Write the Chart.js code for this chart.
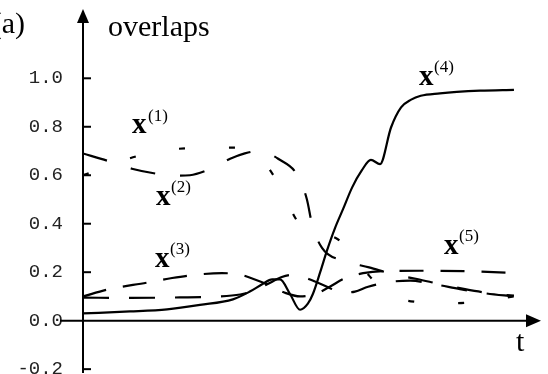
<!DOCTYPE html>
<html>
<head>
<meta charset="utf-8">
<script src="https://cdn.jsdelivr.net/npm/chart.js@4.4.0/dist/chart.umd.min.js"></script>
<style>
html,body{margin:0;padding:0;background:#fff;}
#wrap{width:548px;height:374px;position:relative;}
</style>
</head>
<body>
<div id="wrap"><canvas id="c" width="548" height="374"></canvas></div>
<script>
// y-axis tick labels
const yTicks = [-0.2, 0.0, 0.2, 0.4, 0.6, 0.8, 1.0];

// x^(1): short dashes
const t1 = [0, 4.8, 10.3, 16.8, 22.3, 27.8, 33.3, 37.6, 42.0, 47.3, 50.8, 55.4, 58.9, 62.6, 66.1, 69.4, 72.6, 78.1, 83.8, 89.1, 94.3];
const v1 = [0.60, 0.63, 0.67, 0.70, 0.711, 0.714, 0.714, 0.695, 0.59, 0.40, 0.36, 0.34, 0.28, 0.186, 0.12, 0.09, 0.078, 0.072, 0.074, 0.085, 0.10];

// x^(2): long dashes
const t2 = [0, 5.3, 10.7, 16.2, 20.1, 23.4, 27.1, 32.2, 35.4, 38.3, 40.5, 42.7, 47.0, 49.0, 50.1, 52.3, 57.1, 62.6, 68.1, 73.1, 78.3, 83.6, 89.1, 94.3];
const v2 = [0.69, 0.66, 0.627, 0.606, 0.598, 0.60, 0.62, 0.668, 0.69, 0.70, 0.69, 0.668, 0.598, 0.50, 0.40, 0.30, 0.247, 0.22, 0.19, 0.172, 0.15, 0.13, 0.113, 0.103];

// x^(3): dashed, rises to ~0.2
const t3 = [0, 5.3, 14.0, 19.5, 24.9, 30.4, 34.4, 37.6, 40.3, 44.2, 47.5, 50.8, 54.0, 57.3, 61.3, 66.1, 73.7, 84.7, 94.3];
const v3 = [0.10, 0.128, 0.157, 0.176, 0.19, 0.196, 0.19, 0.17, 0.15, 0.115, 0.10, 0.11, 0.14, 0.175, 0.196, 0.205, 0.206, 0.204, 0.197];

// x^(4): solid, goes to ~0.95
const t4 = [0, 10.3, 18.4, 25.6, 32.8, 36.5, 39.2, 41.4, 43.1, 45.3, 47.5, 49.2, 50.3, 51.9, 53.4, 55.1, 56.9, 58.9, 61.0, 63.0, 65.0, 67.4, 69.6, 71.8, 73.9, 78.1, 81.8, 86.9, 94.3];
const v4 = [0.03, 0.038, 0.047, 0.065, 0.088, 0.12, 0.15, 0.17, 0.17, 0.11, 0.045, 0.07, 0.11, 0.20, 0.29, 0.38, 0.46, 0.55, 0.62, 0.663, 0.646, 0.797, 0.88, 0.912, 0.928, 0.938, 0.944, 0.949, 0.952];

// x^(5): dashed, starts flat ~0.1
const t5 = [0, 10.3, 21.2, 28.4, 34.4, 37.6, 40.3, 43.5, 46.4, 49.7, 53.4, 56.7, 59.5, 62.4, 67.2, 71.6, 77.0, 82.5, 88.0, 94.3];
const v5 = [0.095, 0.094, 0.096, 0.099, 0.108, 0.125, 0.15, 0.18, 0.19, 0.17, 0.14, 0.115, 0.12, 0.14, 0.16, 0.165, 0.15, 0.13, 0.113, 0.10];

function pts(t, v){ return t.map((x,i)=>({x:x, y:v[i]})); }
function ds(t, v, dash){
  return {data: pts(t, v), borderColor:'#000', borderWidth:2.2, borderDash:dash,
          pointRadius:0, fill:false, cubicInterpolationMode:'monotone', borderCapStyle:'butt'};
}

const axesPlugin = {
  id:'axesDecor',
  afterDraw(chart){
    const ctx = chart.ctx, xs = chart.scales.x, ys = chart.scales.y;
    const x0 = xs.getPixelForValue(0), y0 = ys.getPixelForValue(0);
    ctx.save();
    ctx.strokeStyle='#000'; ctx.fillStyle='#000'; ctx.lineWidth=2;
    // x axis
    ctx.beginPath(); ctx.moveTo(60, y0); ctx.lineTo(xs.right-12, y0); ctx.stroke();
    ctx.beginPath(); ctx.moveTo(xs.right+1, y0); ctx.lineTo(xs.right-14, y0-6.5); ctx.lineTo(xs.right-14, y0+6.5); ctx.closePath(); ctx.fill();
    // y axis
    ctx.beginPath(); ctx.moveTo(x0, ys.bottom-1); ctx.lineTo(x0, ys.top+12); ctx.stroke();
    ctx.beginPath(); ctx.moveTo(x0, ys.top+1); ctx.lineTo(x0-6, ys.top+15); ctx.lineTo(x0+6, ys.top+15); ctx.closePath(); ctx.fill();
    // tick marks
    yTicks.forEach(v=>{ if(v===0) return; const y=ys.getPixelForValue(v);
      ctx.beginPath(); ctx.moveTo(x0-1, y); ctx.lineTo(x0+8, y); ctx.stroke(); });
    // texts
    ctx.textBaseline='alphabetic'; ctx.textAlign='left';
    ctx.font='30px "Liberation Serif", "Times New Roman", serif';
    ctx.fillText('overlaps', 108, 36);
    ctx.fillText('t', 516, 351);
    ctx.textAlign='right';
    ctx.fillText('(a)', 25, 33);
    ctx.textAlign='left';
    const labels = [
      ['(1)', 132, 133, 148, 121],
      ['(2)', 156, 205, 171, 192],
      ['(3)', 155, 267, 170, 254],
      ['(4)', 419, 85, 434, 72],
      ['(5)', 444, 254, 459, 241]
    ];
    labels.forEach(l=>{
      ctx.font='bold 29px "Liberation Serif", "Times New Roman", serif';
      ctx.fillText('x', l[1], l[2]);
      ctx.font='17px "Liberation Serif", "Times New Roman", serif';
      ctx.fillText(l[0], l[3], l[4]);
    });
    ctx.restore();
  }
};

new Chart(document.getElementById('c'), {
  type:'line',
  data:{ datasets:[
    ds(t1, v1, [6, 44]),
    ds(t2, v2, [25, 25]),
    ds(t3, v3, [24, 17]),
    ds(t4, v4, []),
    ds(t5, v5, [26, 20])
  ]},
  options:{
    responsive:false, animation:false, devicePixelRatio:1,
    layout:{padding:{left:0, right:8, top:8, bottom:0}},
    plugins:{legend:{display:false}, tooltip:{enabled:false}},
    scales:{
      x:{type:'linear', min:0, max:100, display:false},
      y:{type:'linear', min:-0.22, max:1.29,
         grid:{display:false, drawTicks:false}, border:{display:false},
         afterBuildTicks(s){ s.ticks = yTicks.map(v=>({value:v})); },
         afterFit(s){ s.width = 83; s.paddingTop = 0; s.paddingBottom = 0; },
         ticks:{padding:20, color:'#222', font:{family:'"Liberation Mono", monospace', size:19},
                callback:(v)=>Number(v).toFixed(1)}
      }
    }
  },
  plugins:[axesPlugin]
});
</script>
</body>
</html>
